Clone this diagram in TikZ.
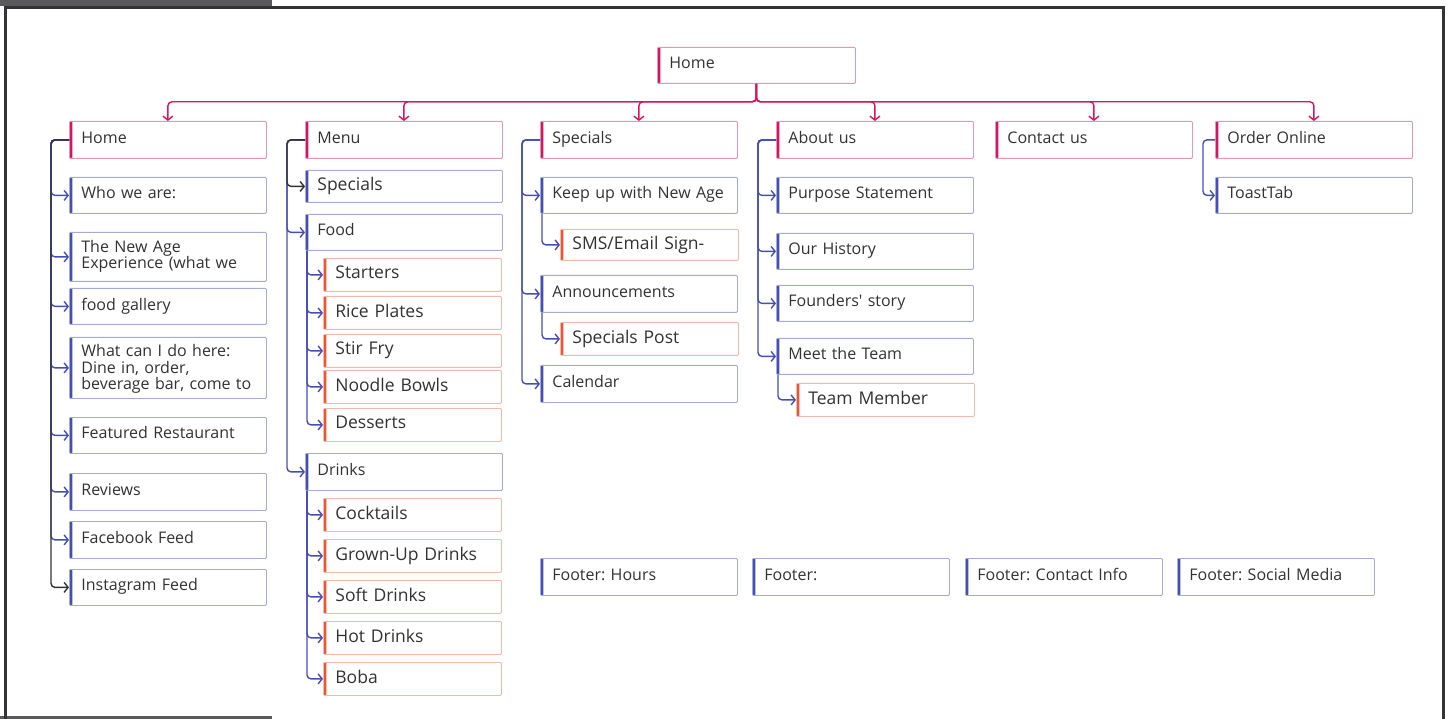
\documentclass[tikz,border=0pt]{standalone}
\usepackage{fontspec}
\setmainfont{Open Sans}
\usetikzlibrary{arrows.meta}
\frenchspacing

\definecolor{pinkbar}{RGB}{214,20,96}
\definecolor{pinkedge}{RGB}{228,150,180}
\definecolor{bluebar}{RGB}{70,78,180}
\definecolor{blueedge}{RGB}{165,170,215}
\definecolor{orangebar}{RGB}{240,85,50}
\definecolor{orangeedge}{RGB}{242,185,170}
\definecolor{darkline}{RGB}{50,50,55}
\definecolor{txt}{RGB}{50,50,50}
\definecolor{framegray}{RGB}{90,90,92}

\tikzset{
  box/.style={rectangle, rounded corners=1pt, line width=0.8pt, anchor=north west,
    inner xsep=12pt, inner ysep=0pt, align=left, text=txt, text width=173pt,
    text depth=5pt, minimum height=36pt, font=\fontsize{16}{16.5}\selectfont},
  pinkbox/.style={box, draw=pinkedge, path picture={\fill[pinkbar] (path picture bounding box.north west) rectangle ([xshift=3pt]path picture bounding box.south west);}},
  bluebox/.style={box, draw=blueedge, path picture={\fill[bluebar] (path picture bounding box.north west) rectangle ([xshift=3pt]path picture bounding box.south west);}},
  orangebox/.style={box, draw=orangeedge, text width=154pt, minimum height=33pt, font=\fontsize{17.5}{18}\selectfont,
    path picture={\fill[orangebar] (path picture bounding box.north west) rectangle ([xshift=3pt]path picture bounding box.south west);}},
  link/.style={line width=1.4pt, rounded corners=4pt, -{Straight Barb[length=4pt,width=10pt]}},
  pinklink/.style={link, draw=pinkbar},
  bluelink/.style={link, draw=bluebar},
  darklink/.style={link, draw=darkline}
}

\begin{document}
\begin{tikzpicture}[x=1pt,y=-1pt]
\useasboundingbox (0,0) rectangle (1449,719);
% frame of the screenshot
\fill[framegray] (0,0) rectangle (272,6);
\fill[framegray] (0,716) rectangle (272,719);
\draw[line width=3pt, darkline] (5,719) |- (1443,8) -- (1443,719);

% top level
\node[pinkbox, text width=174pt] (top) at (657,47) {Home};

\node[pinkbox, minimum height=37pt] (home) at (69,121) {Home};
\node[pinkbox, minimum height=37pt] (menu) at (305,121) {Menu};
\node[pinkbox, minimum height=37pt] (specials) at (540,121) {Specials};
\node[pinkbox, minimum height=37pt] (about) at (776,121) {About us};
\node[pinkbox, minimum height=37pt] (contact) at (995,121) {Contact us};
\node[pinkbox, minimum height=37pt] (order) at (1215,121) {Order Online};

\draw[pinklink] (top.south) -- ++(0,18) -| (home.north);
\draw[pinklink] (top.south) -- ++(0,18) -| (menu.north);
\draw[pinklink] (top.south) -- ++(0,18) -| (specials.north);
\draw[pinklink] (top.south) -- ++(0,18) -| (about.north);
\draw[pinklink] (top.south) -- ++(0,18) -| (contact.north);
\draw[pinklink] (top.south) -- ++(0,18) -| (order.north);

% home page
\node[bluebox] (who) at (69,177) {Who we are:};
\node[bluebox, minimum height=49pt, text depth=21pt] (newage) at (69,232) {The New Age\\Experience (what we};
\node[bluebox] (gallery) at (69,288) {food gallery};
\node[bluebox, minimum height=61pt, text depth=34.5pt] (whatcan) at (69,337) {What can I do here:\\Dine in, order,\\beverage bar, come to};
\node[bluebox] (featured) at (69,417) {Featured Restaurant};
\node[bluebox, minimum height=37pt] (reviews) at (69,473) {Reviews};
\node[bluebox, minimum height=37pt] (facebook) at (69,521) {Facebook Feed};
\node[bluebox] (instagram) at (69,569) {Instagram Feed};

\draw[bluelink] (home.west) -- ++(-18,0) |- (who.west);
\draw[bluelink] (home.west) -- ++(-18,0) |- (newage.west);
\draw[bluelink] (home.west) -- ++(-18,0) |- (gallery.west);
\draw[bluelink] (home.west) -- ++(-18,0) |- (whatcan.west);
\draw[bluelink] (home.west) -- ++(-18,0) |- (featured.west);
\draw[bluelink] (home.west) -- ++(-18,0) |- (reviews.west);
\draw[bluelink] (home.west) -- ++(-18,0) |- (facebook.west);
\draw[darklink] (home.west) -- ++(-18,0) |- (instagram.west);

% menu
\node[bluebox, minimum height=32pt, font=\fontsize{17.5}{18}\selectfont] (mspecials) at (305,170) {Specials};
\node[bluebox] (food) at (305,214) {Food};
\node[orangebox] (starters) at (323,258) {Starters};
\node[orangebox] (rice) at (323,296) {Rice Plates};
\node[orangebox] (stirfry) at (323,334) {Stir Fry};
\node[orangebox] (noodle) at (323,370) {Noodle Bowls};
\node[orangebox] (desserts) at (323,408) {Desserts};
\node[bluebox, minimum height=37pt] (drinks) at (305,453) {Drinks};
\node[orangebox] (cocktails) at (323,498) {Cocktails};
\node[orangebox] (grownup) at (323,539) {Grown-Up Drinks};
\node[orangebox] (soft) at (323,580) {Soft Drinks};
\node[orangebox] (hot) at (323,621) {Hot Drinks};
\node[orangebox] (boba) at (323,662) {Boba};

\draw[bluelink] (menu.west) -- ++(-18,0) |- (food.west);
\draw[bluelink] (menu.west) -- ++(-18,0) |- (drinks.west);
\draw[darklink] (menu.west) -- ++(-18,0) |- (mspecials.west);
\draw[bluelink] ([xshift=2pt]food.south west) |- (starters.west);
\draw[bluelink] ([xshift=2pt]food.south west) |- (rice.west);
\draw[bluelink] ([xshift=2pt]food.south west) |- (stirfry.west);
\draw[bluelink] ([xshift=2pt]food.south west) |- (noodle.west);
\draw[bluelink] ([xshift=2pt]food.south west) |- (desserts.west);
\draw[bluelink] ([xshift=2pt]drinks.south west) |- (cocktails.west);
\draw[bluelink] ([xshift=2pt]drinks.south west) |- (grownup.west);
\draw[bluelink] ([xshift=2pt]drinks.south west) |- (soft.west);
\draw[bluelink] ([xshift=2pt]drinks.south west) |- (hot.west);
\draw[bluelink] ([xshift=2pt]drinks.south west) |- (boba.west);

% specials
\node[bluebox] (keepup) at (540,177) {Keep up with New Age};
\node[orangebox, minimum height=31pt] (sms) at (560,229) {SMS/Email Sign-};
\node[bluebox, minimum height=37pt] (announce) at (540,275) {Announcements};
\node[orangebox] (post) at (560,322) {Specials Post};
\node[bluebox, minimum height=37pt] (calendar) at (540,365) {Calendar};

\draw[bluelink] (specials.west) -- ++(-18,0) |- (keepup.west);
\draw[bluelink] (specials.west) -- ++(-18,0) |- (announce.west);
\draw[bluelink] (specials.west) -- ++(-18,0) |- (calendar.west);
\draw[bluelink] ([xshift=2pt]keepup.south west) |- (sms.west);
\draw[bluelink] ([xshift=2pt]announce.south west) |- (post.west);

% about us
\node[bluebox] (purpose) at (776,177) {Purpose Statement};
\node[bluebox] (history) at (776,233) {Our History};
\node[bluebox] (founders) at (776,285) {Founders\textquotesingle{} story};
\node[bluebox] (meet) at (776,338) {Meet the Team};
\node[orangebox] (member) at (796,383) {Team Member};

\draw[bluelink] (about.west) -- ++(-18,0) |- (purpose.west);
\draw[bluelink] (about.west) -- ++(-18,0) |- (history.west);
\draw[bluelink] (about.west) -- ++(-18,0) |- (founders.west);
\draw[bluelink] (about.west) -- ++(-18,0) |- (meet.west);
\draw[bluelink] ([xshift=2pt]meet.south west) |- (member.west);

% order online
\node[bluebox] (toast) at (1215,177) {ToastTab};
\draw[bluelink] (order.west) -- ++(-12,0) |- (toast.west);

% footer
\node[bluebox, minimum height=37pt] (fhours) at (540,558) {Footer: Hours};
\node[bluebox, minimum height=37pt] (fblank) at (752,558) {Footer:};
\node[bluebox, minimum height=37pt] (fcontact) at (965,558) {Footer: Contact Info};
\node[bluebox, minimum height=37pt] (fsocial) at (1177,558) {Footer: Social Media};
\end{tikzpicture}
\end{document}
